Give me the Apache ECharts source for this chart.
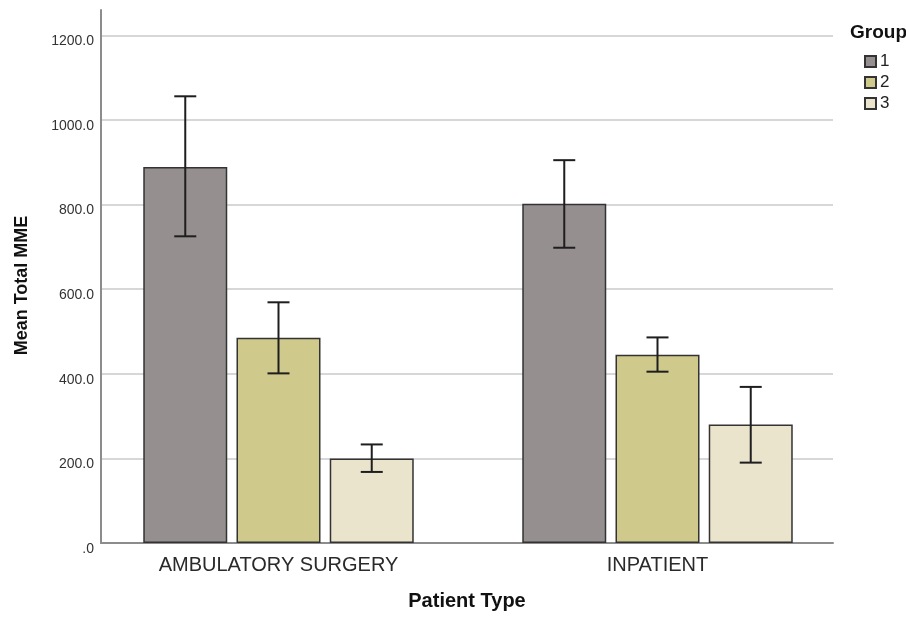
<!DOCTYPE html>
<html>
<head>
<meta charset="utf-8">
<title>Mean Total MME by Patient Type</title>
<script src="https://cdn.jsdelivr.net/npm/echarts@6/dist/echarts.min.js"></script>
<style>
    html, body { margin: 0; padding: 0; background: #fff; }
    #chart { width: 906px; height: 620px; }
</style>
</head>
<body>
<div id="chart"></div>
<script>
// data
var categories = ['AMBULATORY SURGERY', 'INPATIENT'];
var groups = ['1', '2', '3'];
var meanG1 = [889, 802];
var meanG2 = [485, 445];
var meanG3 = [200, 280];
var lowG1 = [725, 698];
var lowG2 = [401, 405];
var lowG3 = [168, 190];
var highG1 = [1056, 905];
var highG2 = [569, 486];
var highG3 = [233, 369];
var gridValues = [200, 400, 600, 800, 1000, 1200];

var means = [meanG1, meanG2, meanG3];
var lows = [lowG1, lowG2, lowG3];
var highs = [highG1, highG2, highG3];
var colors = ['#968f90', '#cfca8c', '#ebe4cd'];

var BAR_W = 84;
var BAR_GAP = 0.11;
var Y_MAX = 1260;

var myChart = echarts.init(document.getElementById('chart'));

// error bar data: [category, group, low, high]
var errData = [];
for (var g = 0; g < groups.length; g++) {
    for (var c = 0; c < categories.length; c++) {
        errData.push([c, g, lows[g][c], highs[g][c]]);
    }
}

function renderErr(params, api) {
    var c = api.value(0), g = api.value(1);
    var step = BAR_W * (1 + BAR_GAP);
    var off = (g - (groups.length - 1) / 2) * step;
    var lo = api.coord([c, api.value(2)]);
    var hi = api.coord([c, api.value(3)]);
    var x = lo[0] + off;
    var half = 11;
    var st = { stroke: '#1e1e1e', lineWidth: 2 };
    return {
        type: 'group',
        children: [
            { type: 'line', shape: { x1: x, y1: hi[1], x2: x, y2: lo[1] }, style: st },
            { type: 'line', shape: { x1: x - half, y1: hi[1], x2: x + half, y2: hi[1] }, style: st },
            { type: 'line', shape: { x1: x - half, y1: lo[1], x2: x + half, y2: lo[1] }, style: st }
        ]
    };
}

var series = [];
// gridlines under the bars (frame grid)
series.push({
    type: 'line', data: [], xAxisIndex: 0, yAxisIndex: 0, z: 0,
    markLine: {
        z: 0, silent: true, symbol: 'none', animation: false,
        label: { show: false },
        lineStyle: { color: '#cacaca', width: 1.5, type: 'solid' },
        data: gridValues.map(function (v) { return { yAxis: v }; })
    }
});
for (var i = 0; i < groups.length; i++) {
    series.push({
        name: groups[i], type: 'bar', data: means[i], barWidth: BAR_W, barGap: (BAR_GAP * 100) + '%',
        xAxisIndex: 1, yAxisIndex: 1, z: 2,
        itemStyle: { color: colors[i], borderColor: '#333', borderWidth: 1.5 }
    });
}
series.push({
    type: 'custom', renderItem: renderErr, data: errData, z: 5,
    xAxisIndex: 1, yAxisIndex: 1,
    encode: { x: 0, y: [2, 3] }
});

var option = {
    animation: false,
    textStyle: { fontFamily: 'Liberation Sans, Arial, sans-serif' },
    title: {
        text: 'Group', left: 845, top: 18,
        textStyle: { fontSize: 19, fontWeight: 'bold', color: '#111' }
    },
    legend: {
        data: groups, orient: 'vertical', left: 859, top: 48,
        itemWidth: 11, itemHeight: 11, itemGap: 4,
        icon: 'rect',
        textStyle: { fontSize: 17, color: '#222', padding: [0, 0, 0, -1] }
    },
    grid: [
        { left: 101, right: 73, top: 10, bottom: 77 },
        { left: 89, right: 59, top: 10, bottom: 77 }
    ],
    xAxis: [
        {
            gridIndex: 0, type: 'category', data: categories,
            name: 'Patient Type', nameLocation: 'middle', nameGap: 48,
            nameTextStyle: { fontSize: 20, fontWeight: 'bold', color: '#111' },
            axisLine: { lineStyle: { color: '#8c8c8c', width: 2 } },
            axisTick: { show: false },
            axisLabel: { show: false }
        },
        {
            gridIndex: 1, type: 'category', data: categories,
            axisLine: { show: false },
            axisTick: { show: false },
            axisLabel: { fontSize: 20, color: '#2a2a2a', margin: 12 }
        }
    ],
    yAxis: [
        {
            gridIndex: 0, type: 'value', min: 0, max: Y_MAX, interval: 200,
            name: 'Mean Total MME', nameLocation: 'middle', nameGap: 70,
            nameTextStyle: { fontSize: 18, fontWeight: 'bold', color: '#111', padding: [0, 18, 0, 0] },
            axisLine: { show: true, lineStyle: { color: '#8c8c8c', width: 2 } },
            axisTick: { show: false },
            splitLine: { show: false },
            axisLabel: {
                fontSize: 14, color: '#333', margin: 7, verticalAlign: 'top', lineHeight: 12,
                formatter: function (v) {
                    if (v % 200 !== 0) return '';
                    return v === 0 ? '.0' : v.toFixed(1);
                }
            }
        },
        {
            gridIndex: 1, type: 'value', min: 0, max: Y_MAX, show: false
        }
    ],
    series: series
};

myChart.setOption(option);
</script>
</body>
</html>
